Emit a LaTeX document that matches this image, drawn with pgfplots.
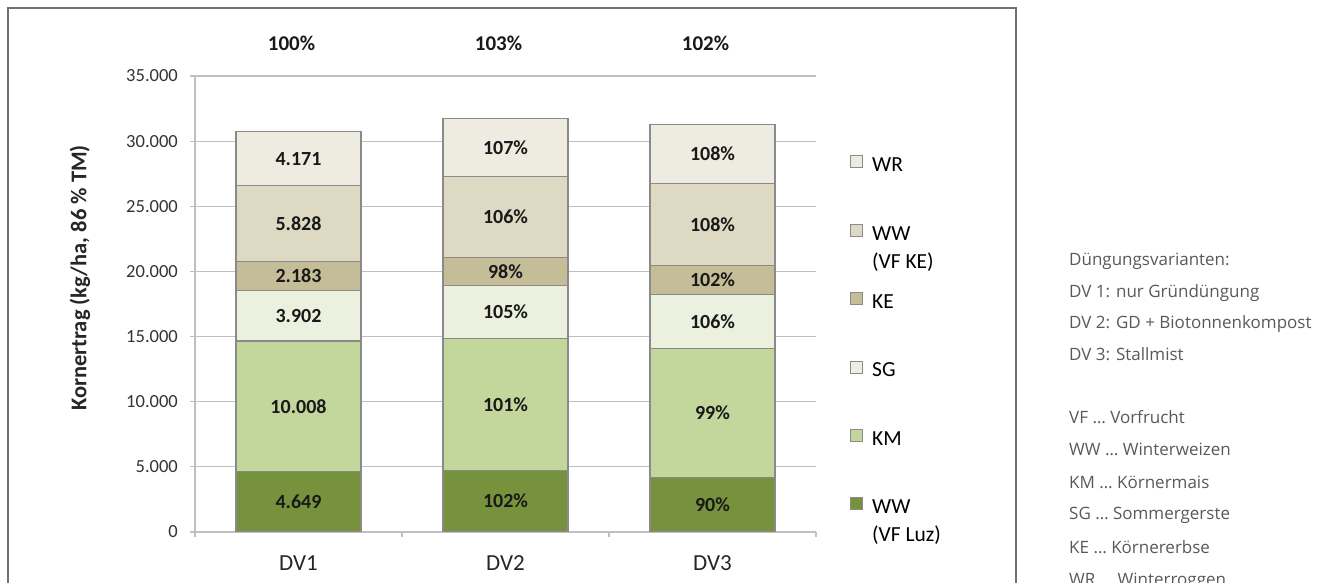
\documentclass[border=0pt]{standalone}
\usepackage{pgfplots}
\pgfplotsset{compat=1.18}
\usepackage{pgfplotstable}
\usepackage{fontspec}
\setmainfont{Carlito}
\newfontfamily\notefont{Open Sans}
\definecolor{cWWLuz}{HTML}{76923C}
\definecolor{cKM}{HTML}{C3D69B}
\definecolor{cSG}{HTML}{EBF1DE}
\definecolor{cKE}{HTML}{C4BD97}
\definecolor{cWWKE}{HTML}{DDD9C3}
\definecolor{cWR}{HTML}{EEECE1}
\definecolor{barc}{HTML}{8A8A8A}
\definecolor{gridc}{HTML}{C0C0C0}
\definecolor{notec}{HTML}{595959}
\definecolor{framec}{HTML}{707070}

\pgfplotstableread{
x WWLuz KM SG KE WWKE WR
0 4649 10008 3902 2183 5828 4171
1 4742 10108 4097 2139 6178 4463
2 4184 9908 4136 2227 6294 4505
}\yields

\pgfplotstableread{
x y lab
0 2324.5 4.649
0 9653 10.008
0 16608 3.902
0 19650.5 2.183
0 23656 5.828
0 28655.5 4.171
}\abslabels

\pgfplotstableread{
x y lab
1 2371 102
1 9796 101
1 16898.5 105
1 20016.5 98
1 24175 106
1 29495.5 107
2 2092 90
2 9138 99
2 16160 106
2 19341.5 102
2 23602 108
2 29001.5 108
}\pctlabels

\pgfplotstableread{
x y lab
0 37530 100
1 37530 103
2 37530 102
}\toplabels

\pgfplotsset{
  base/.style={
    at={(195bp,51bp)}, anchor=south west, scale only axis,
    width=621bp, height=456bp,
    xmin=-0.5, xmax=2.5, ymin=0, ymax=35000,
  }
}

\begin{document}
\begin{tikzpicture}
\clip (0,0) rectangle (1322bp,583bp);
\draw[framec, line width=1.3bp] (8bp,-20bp) rectangle (1016bp,575bp);

\begin{axis}[base,
  ybar stacked, bar width=125bp,
  axis x line*=bottom, axis y line*=left,
  axis line style={draw=gridc, line width=1.2bp},
  ymajorgrids, grid style={draw=gridc, line width=1.2bp},
  tick align=outside, major tick length=5bp,
  tick style={draw=gridc, line width=1.2bp},
  ytick={0,5000,...,35000},
  scaled y ticks=false,
  yticklabel style={/pgf/number format/fixed, /pgf/number format/1000 sep={.},
    /pgf/number format/assume math mode=true,
    font=\fontsize{18.5bp}{22bp}\selectfont, text=black!80, inner sep=0pt, xshift=-12bp},
  xtick={-0.5,0.5,1.5,2.5}, xticklabels={,,,},
  extra x ticks={0,1,2}, extra x tick labels={DV1,DV2,DV3},
  extra x tick style={major tick length=0pt},
  xticklabel style={font=\fontsize{23bp}{26bp}\selectfont, text=black!85, inner sep=0pt, anchor=north, yshift=-23bp},
  legend style={at={(1.0548,0.8268)}, anchor=north west, draw=none, fill=none,
    inner sep=0pt, row sep=47bp, column sep=9bp,
    font=\fontsize{21.5bp}{28bp}\selectfont,
    nodes={inner sep=0pt, text height=15bp, text depth=5bp}},
  legend cell align=left, reverse legend,
  legend image code/.code={\draw[#1, draw=barc, line width=0.9bp] (0bp,-1bp) rectangle (12bp,11bp);},
]
\addplot[fill=cWWLuz, draw=barc, line width=1.1bp] table[x=x,y=WWLuz]{\yields};
\addlegendentry{\begin{tabular}[t]{@{}l@{}}WW\\(VF Luz)\end{tabular}}
\addplot[fill=cKM, draw=barc, line width=1.1bp] table[x=x,y=KM]{\yields};
\addlegendentry{KM}
\addplot[fill=cSG, draw=barc, line width=1.1bp] table[x=x,y=SG]{\yields};
\addlegendentry{SG}
\addplot[fill=cKE, draw=barc, line width=1.1bp] table[x=x,y=KE]{\yields};
\addlegendentry{KE}
\addplot[fill=cWWKE, draw=barc, line width=1.1bp] table[x=x,y=WWKE]{\yields};
\addlegendentry{\begin{tabular}[t]{@{}l@{}}WW\\(VF KE)\end{tabular}}
\addplot[fill=cWR, draw=barc, line width=1.1bp] table[x=x,y=WR]{\yields};
\addlegendentry{WR}
\end{axis}

\begin{axis}[base, hide axis, clip=false,
  point meta=explicit symbolic,
  every node near coord/.append style={anchor=center, inner sep=0pt, text=black!90,
    font=\bfseries\fontsize{20bp}{24bp}\selectfont}]
\addplot[only marks, mark=none, nodes near coords={\pgfplotspointmeta}] table[x=x,y=y,meta=lab]{\abslabels};
\addplot[only marks, mark=none, nodes near coords={\pgfplotspointmeta\%}] table[x=x,y=y,meta=lab]{\pctlabels};
\addplot[only marks, mark=none, nodes near coords={\pgfplotspointmeta\%},
  every node near coord/.append style={xshift=-7bp, font=\bfseries\fontsize{21bp}{24bp}\selectfont}]
  table[x=x,y=y,meta=lab]{\toplabels};
\end{axis}

\node[rotate=90, font=\bfseries\fontsize{22.5bp}{26bp}\selectfont, text=black!85] at (80bp,305bp) {Kornertrag (kg/ha, 86 \% TM)};

\begin{scope}[every node/.style={anchor=base west, inner sep=0pt, text=notec, font=\notefont\fontsize{17bp}{20bp}\selectfont}]
\node at (1069bp,317bp) {Düngungsvarianten:};
\node at (1069bp,285bp) {DV 1: nur Gründüngung};
\node at (1069bp,254bp) {DV 2: GD + Biotonnenkompost};
\node at (1069bp,222bp) {DV 3: Stallmist};
\node at (1069bp,159bp) {VF … Vorfrucht};
\node at (1069bp,127bp) {WW … Winterweizen};
\node at (1069bp,94bp) {KM … Körnermais};
\node at (1069bp,63bp) {SG … Sommergerste};
\node at (1069bp,30bp) {KE … Körnererbse};
\node at (1069bp,-2bp) {WR … Winterroggen};
\end{scope}
\end{tikzpicture}
\end{document}
